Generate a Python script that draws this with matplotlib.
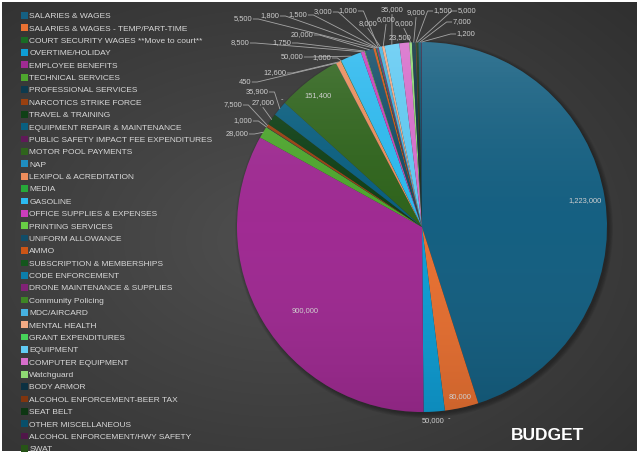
import colorsys
import matplotlib.pyplot as plt
import matplotlib.colors as mcolors
import numpy as np
from matplotlib.patches import Circle

categories = [
    "SALARIES & WAGES", "SALARIES & WAGES - TEMP/PART-TIME",
    "COURT SECURITY WAGES **Move to court**", "OVERTIME/HOLIDAY",
    "EMPLOYEE BENEFITS", "TECHNICAL SERVICES", "PROFESSIONAL SERVICES",
    "NARCOTICS STRIKE FORCE", "TRAVEL & TRAINING",
    "EQUIPMENT REPAIR & MAINTENANCE", "PUBLIC SAFETY IMPACT FEE EXPENDITURES",
    "MOTOR POOL PAYMENTS", "NAP", "LEXIPOL & ACREDITATION", "MEDIA",
    "GASOLINE", "OFFICE SUPPLIES & EXPENSES", "PRINTING SERVICES",
    "UNIFORM ALLOWANCE", "AMMO", "SUBSCRIPTION & MEMBERSHIPS",
    "CODE ENFORCEMENT", "DRONE MAINTENANCE & SUPPLIES", "Community Policing",
    "MDC/AIRCARD", "MENTAL HEALTH", "GRANT EXPENDITURES", "EQUIPMENT",
    "COMPUTER EQUIPMENT", "Watchguard", "BODY ARMOR",
    "ALCOHOL ENFORCEMENT-BEER TAX", "SEAT BELT", "OTHER MISCELLANEOUS",
    "ALCOHOL ENFORCEMENT/HWY SAFETY", "SWAT",
]
values = [
    1223000, 80000, 0, 50000, 900000, 28000, 1000, 7500, 27000, 35900,
    0, 151400, 450, 12600, 1000, 50000, 8500, 1750, 20000, 5500,
    1800, 1500, 3000, 1000, 8000, 6000, 0, 35000, 23500, 6000,
    9000, 1500, 5000, 7000, 1200, 0,
]
# label spots in pixels from the top-left corner; None = no label drawn
label_pos = [
    (585, 201), (460, 397), (449, 419), (433, 421), (305, 311),
    (237, 134), (243, 121), (233, 105), (263, 103), (257, 92),
    (282, 100), (318, 96), (245, 82), (275, 73), (322, 58),
    (292, 57), (240, 43), (282, 43), (302, 35), (243, 19),
    (270, 16), (298, 15), (323, 12), (348, 11), (368, 24),
    (386, 20), None, (392, 10), (400, 38), (404, 24),
    (416, 13), (443, 11), (467, 11), (462, 22), (466, 34), None,
]
inside = {0, 1, 4, 11}

# office theme accents, then the shade/tint rounds excel cycles through
accents = ["#156082", "#E97132", "#196B24", "#0F9ED5", "#A02B93", "#4EA72E"]
rounds = [(1.0, 0.0), (0.6, 0.0), (0.8, 0.2), (0.8, 0.0), (0.6, 0.4), (0.5, 0.0)]


def lum(c, mod, off):
    h, l, s = colorsys.rgb_to_hls(*mcolors.to_rgb(c))
    return colorsys.hls_to_rgb(h, min(1.0, l * mod + off), s)


colors = [lum(accents[i % 6], *rounds[i // 6]) for i in range(len(values))]

W, H = 640, 453
cx, cy, r = 422, H - 227, 185
font = "Liberation Sans"

fig = plt.figure(figsize=(W / 100, H / 100), dpi=100, facecolor="white")
ax = fig.add_axes([0, 0, 1, 1])

# dark radial background
yy, xx = np.mgrid[0:H, 0:W]
d = np.hypot((xx - 280) / W, (yy - 240) / H)
d = np.clip(d, 0, 1)
inner, outer = np.array([0.31, 0.31, 0.31]), np.array([0.15, 0.15, 0.15])
bg = inner[None, None, :] * (1 - d[..., None]) + outer[None, None, :] * d[..., None]
ax.imshow(bg, extent=(2, W - 3, 2, H - 2), origin="upper", zorder=0,
          aspect="auto")

# soft shadow under the pie, thrown down and to the right
for k in range(6):
    ax.add_patch(Circle((cx + 2, cy - 2), r + 4 - k * 0.8, color="black",
                        alpha=0.06, lw=0, zorder=1))

wedges, _ = ax.pie(values, colors=colors, startangle=90, counterclock=False,
                   center=(cx, cy), radius=r,
                   wedgeprops=dict(linewidth=0, zorder=2))

# top-light / bottom-dark sheen across the pie
t = np.linspace(0, 1, 256)[:, None]
sheen = np.zeros((256, 1, 4))
sheen[..., :3] = (1 - t)[..., None] * np.ones(3)
sheen[..., 3] = np.where(t < 0.5, 0.14 * (1 - 2 * t), 0.12 * (2 * t - 1))
im = ax.imshow(sheen, extent=(cx - r, cx + r, cy - r, cy + r), origin="upper",
               aspect="auto", zorder=3)
im.set_clip_path(Circle((cx, cy), r, transform=ax.transData))

ax.set_xlim(0, W)
ax.set_ylim(0, H)
ax.set_aspect("auto")
ax.axis("off")

renderer = fig.canvas.get_renderer()
inv = ax.transData.inverted()
for i, (w, v, pos) in enumerate(zip(wedges, values, label_pos)):
    if pos is None:
        continue
    x, y = pos[0], H - pos[1]
    txt = f"{v:,}" if v else "-"
    tt = ax.text(x, y, txt, ha="center", va="center", fontsize=5.4,
                 color="#cfcfcf", family=font, zorder=5)
    if i in inside:
        continue
    bb = tt.get_window_extent(renderer).transformed(inv)
    ang = np.deg2rad((w.theta1 + w.theta2) / 2)
    px, py = cx + r * np.cos(ang), cy + r * np.sin(ang)
    if np.hypot(px - x, py - y) < 16:
        continue
    if px > bb.x1 + 4:
        xs, ys = [bb.x1 + 1, bb.x1 + 6, px], [y, y, py]
    elif px < bb.x0 - 4:
        xs, ys = [bb.x0 - 1, bb.x0 - 6, px], [y, y, py]
    else:
        xs, ys = [x, px], [bb.y0 - 1, py]
    ax.plot(xs, ys, color="#a6a6a6", lw=0.6, zorder=4)

leg = ax.legend(wedges, categories, loc="upper left",
                bbox_to_anchor=(21 / W, 1 - 12 / H), frameon=False,
                prop=dict(family=font, size=6.0), labelcolor="#d8d8d8",
                handlelength=0.85, handleheight=0.85, handletextpad=0.15,
                labelspacing=0.5, borderpad=0, borderaxespad=0)

ax.text(548, H - 436, "BUDGET", ha="center", va="center", fontsize=12.5,
        fontweight="bold", color="white", family=font, zorder=5)

fig.savefig("out.png", dpi=100, facecolor="white")
